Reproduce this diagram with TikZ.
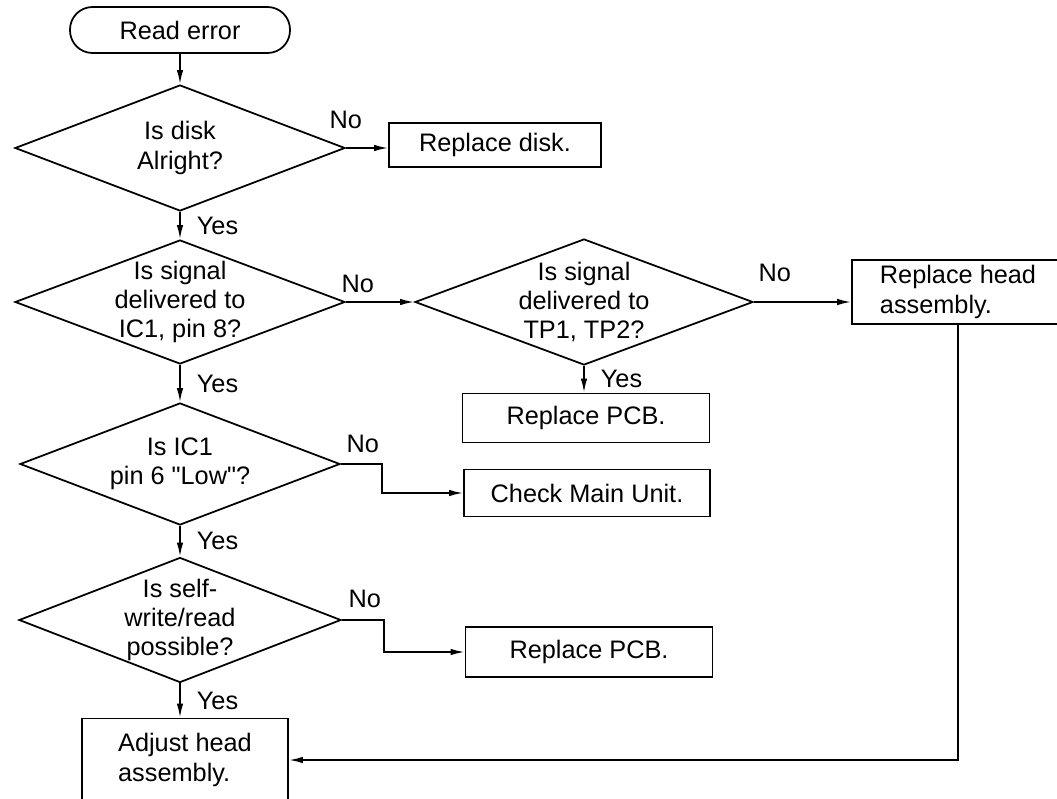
\documentclass[tikz,border=0pt]{standalone}
\usepackage{fontspec}
\setmainfont{Liberation Sans}
\usepackage{tikz}
\usetikzlibrary{arrows.meta,positioning,shapes.geometric}
\newcommand{\diagfont}{\fontsize{14.4}{16.6}\selectfont}
\tikzset{
  terminal/.style={draw=black, rounded corners=4.5mm, line width=1pt, minimum width=4.4cm, minimum height=9.2mm, inner sep=0pt, font=\diagfont},
  decision/.style={draw=black, shape=diamond, line width=1pt, inner sep=0pt},
  qtext/.style={align=center, inner sep=0pt, font=\diagfont},
  box/.style={draw=black, line width=1pt, align=center, inner sep=0pt, font=\diagfont},
  lbl/.style={inner sep=0pt, font=\diagfont},
  yeslbl/.style={lbl, anchor=west, xshift=3.2mm},
  arrow/.style={-{Latex[length=2.8mm,width=1.3mm]}, line width=1pt},
  plain/.style={line width=1pt}
}
\begin{document}
\begin{tikzpicture}[x=0.2mm, y=-0.2mm]
\useasboundingbox (0,0) rectangle (1057,798);
\node[terminal] (start) at (180,30) {Read error};
\node[decision, minimum width=6.6cm, minimum height=2.52cm] (d1) at (180,148) {};
\node[qtext] (d1t) at (d1) {Is disk\\Alright?};
\node[box, minimum width=4.24cm, minimum height=8.8mm] (disk) at (495,145) {Replace disk.};
\node[decision, minimum width=6.6cm, minimum height=2.48cm] (d2) at (180,302) {};
\node[qtext] (d2t) at (d2) {Is signal\\delivered to\\IC1, pin 8?};
\node[decision, minimum width=6.76cm, minimum height=2.52cm] (d3) at (584,302) {};
\node[qtext] (d3t) at (d3) {Is signal\\delivered to\\TP1, TP2?};
\node[box, align=left, minimum width=4.24cm, minimum height=12.8mm] (head) at (958,292) {Replace head\\assembly.};
\node[box, minimum width=4.94cm, minimum height=9.8mm] (pcb1) at (586,418) {Replace PCB.};
\node[decision, minimum width=6.4cm, minimum height=2.44cm] (d4) at (180,464) {};
\node[qtext] (d4t) at (d4) {Is IC1\\pin 6 \textquotedbl Low\textquotedbl ?};
\node[box, minimum width=4.92cm, minimum height=9.4mm] (main) at (587,493) {Check Main Unit.};
\node[decision, minimum width=6.44cm, minimum height=2.5cm] (d5) at (180,620) {};
\node[qtext] (d5t) at (d5) {Is self-\\write/read\\possible?};
\node[box, minimum width=4.94cm, minimum height=10mm] (pcb2) at (589,652) {Replace PCB.};
\node[box, align=left, minimum width=4.12cm, minimum height=16.6mm] (adjust) at (185,760) {Adjust head\\assembly.};
\node[lbl, above=0.38cm of d1.east] (no1) {No};
\node[lbl, above=0.18cm of d2.east, xshift=0.24cm] (no2) {No};
\node[lbl, above=0.4cm of d3.east, xshift=0.42cm] (no3) {No};
\node[lbl, above=0.22cm of d4.east, xshift=0.44cm] (no4) {No};
\node[lbl, above=0.24cm of d5.east, xshift=0.46cm] (no5) {No};
\draw[arrow] (start) -- (d1);
\draw[arrow] (d1.east) -- (d1.east -| disk.west);
\draw[arrow] (d1) -- node[yeslbl] {Yes} (d2);
\draw[arrow] (d2.east) -- (d3.west);
\draw[arrow] (d3.east) -- (d3.east -| head.west);
\draw[arrow] (d3.south) -- node[yeslbl] {Yes} (d3.south |- pcb1.north);
\draw[arrow] (d2) -- node[yeslbl] {Yes} (d4);
\draw[arrow] (d4.east) -- ++(41,0) |- (main.west);
\draw[arrow] (d4) -- node[yeslbl] {Yes} (d5);
\draw[arrow] (d5.east) -- ++(42,0) |- (pcb2.west);
\draw[arrow] (d5.south) -- node[yeslbl] {Yes} (d5.south |- adjust.north);
\draw[arrow] (head.south) |- (adjust.east);
\end{tikzpicture}
\end{document}
